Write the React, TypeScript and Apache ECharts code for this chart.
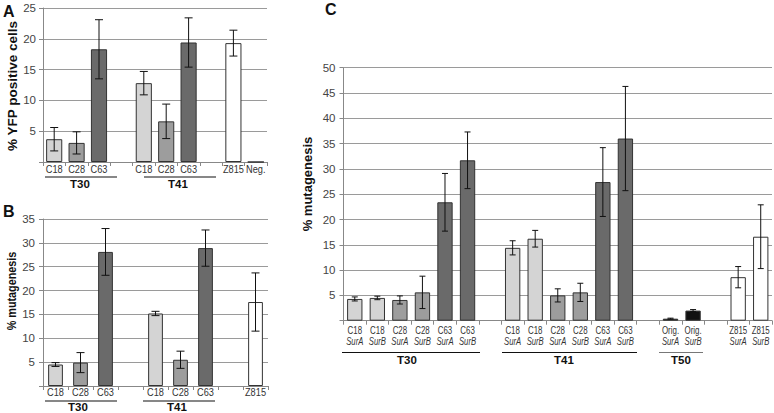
import React, { useEffect, useRef } from "react";
import * as echarts from "echarts";

// ---------- Panel A: % YFP positive cells ----------
const aCategories = ["C18", "C28", "C63", "", "C18", "C28", "C63", "", "Z815", "Neg."];
const aValues: (number | null)[] = [3.7, 3.1, 18.3, null, 12.8, 6.6, 19.4, null, 19.3, 0];
const aErrors: (number | null)[] = [1.9, 1.8, 4.8, null, 1.9, 2.8, 4.0, null, 2.1, null];
const aGroups = ["T30", "T41"];
const aTitle = "% YFP positive cells";

// ---------- Panel B: % mutagenesis ----------
const bCategories = ["C18", "C28", "C63", "", "C18", "C28", "C63", "", "Z815"];
const bValues: (number | null)[] = [4.5, 4.9, 28.1, null, 15.2, 5.5, 28.9, null, 17.6];
const bErrors: (number | null)[] = [0.4, 2.1, 4.9, null, 0.45, 1.8, 3.8, null, 6.1];
const bGroups = ["T30", "T41"];
const bTitle = "% mutagenesis";

// ---------- Panel C: % mutagenesis by gene ----------
const cStrains = ["C18", "C18", "C28", "C28", "C63", "C63", "", "C18", "C18", "C28", "C28", "C63", "C63", "", "Orig.", "Orig.", "", "Z815", "Z815"];
const cGenes = ["SurA", "SurB", "SurA", "SurB", "SurA", "SurB", "", "SurA", "SurB", "SurA", "SurB", "SurA", "SurB", "", "SurA", "SurB", "", "SurA", "SurB"];
const cValues: (number | null)[] = [4.3, 4.5, 4.1, 5.6, 23.4, 31.7, null, 14.4, 16.2, 5.0, 5.6, 27.4, 36.0, null, 0.4, 2.0, null, 8.6, 16.6];
const cErrors: (number | null)[] = [0.4, 0.35, 0.8, 3.2, 5.7, 5.6, null, 1.4, 1.65, 1.3, 1.8, 6.8, 10.3, null, 0.1, 0.2, null, 2.1, 6.3];
const cGroups = ["T30", "T41", "T50"];
const cTitle = "% mutagenesis";

const panelLetters = ["A", "B", "C"];

// ---------- styles / layout ----------
const FONT = "Liberation Sans, Arial, sans-serif";
const strainColor: Record<string, string> = {
  C18: "#d4d4d4",
  C28: "#9d9d9d",
  C63: "#6a6a6a",
  Z815: "#ffffff",
  "Orig.": "#111111",
  "Neg.": "#ffffff",
};

const grids = [
  { left: 43, top: 8, width: 224, height: 154 },
  { left: 43, top: 219, width: 225, height: 167 },
  { left: 343.5, top: 67.7, width: 428.5, height: 253 },
];

const groupLayout = [
  [
    { x1: 45, x2: 117, y: 177, lx: 80, ly: 184, color: "#111" },
    { x1: 144, x2: 216, y: 177, lx: 178, ly: 184, color: "#111" },
  ],
  [
    { x1: 45, x2: 117, y: 401, lx: 78, ly: 406.5, color: "#111" },
    { x1: 143, x2: 215, y: 401, lx: 177, ly: 406.5, color: "#111" },
  ],
  [
    { x1: 342, x2: 480, y: 352.5, lx: 407, ly: 359.5, color: "#111" },
    { x1: 502, x2: 637, y: 352.5, lx: 564, ly: 359.5, color: "#111" },
    { x1: 659, x2: 703, y: 352.5, lx: 681, ly: 359.5, color: "#777" },
  ],
];

const makeErr = (half: number) => (_params: any, api: any) => {
  const x = api.value(0);
  const v = api.value(1);
  const e = api.value(2);
  const hi = api.coord([x, v + e]);
  const lo = api.coord([x, v - e]);
  const style = { stroke: "#111", lineWidth: 1 };
  return {
    type: "group",
    children: [
      { type: "line", shape: { x1: hi[0], y1: hi[1], x2: lo[0], y2: lo[1] }, style },
      { type: "line", shape: { x1: hi[0] - half, y1: hi[1], x2: hi[0] + half, y2: hi[1] }, style },
      { type: "line", shape: { x1: lo[0] - half, y1: lo[1], x2: lo[0] + half, y2: lo[1] }, style },
    ],
  };
};

const barData = (cats: string[], vals: (number | null)[]) =>
  vals.map((v, i) =>
    v == null ? "-" : { value: v, itemStyle: { color: strainColor[cats[i]] || "#fff" } }
  );

const errData = (vals: (number | null)[], errs: (number | null)[]) =>
  vals
    .map((v, i) => (v == null || errs[i] == null ? null : [i, v, errs[i] as number]))
    .filter((d) => d !== null);

const yAxisCfg = (gridIndex: number, max: number, margin: number) => ({
  type: "value",
  gridIndex,
  min: 0,
  max,
  interval: 5,
  axisLine: { show: true, lineStyle: { color: "#888", width: 1 } },
  axisTick: { show: true, length: 4, lineStyle: { color: "#888" } },
  splitLine: { show: true, lineStyle: { color: "#9a9a9a", width: 1 } },
  axisLabel: {
    fontSize: 11.5,
    color: "#444",
    fontFamily: FONT,
    margin,
    formatter: (v: number) => (v === 0 ? "" : String(v)),
  },
});

const xAxisCfg = (gridIndex: number, data: string[]) => ({
  type: "category",
  gridIndex,
  data,
  boundaryGap: true,
  axisLine: { show: true, lineStyle: { color: "#888", width: 1 } },
  axisTick: { show: true, length: 4, interval: 0, lineStyle: { color: "#888" } },
  splitLine: { show: false },
  axisLabel: { show: false },
});

export default function App() {
  const ref = useRef<HTMLDivElement>(null);

  useEffect(() => {
    if (!ref.current) return;
    const chart = echarts.init(ref.current, undefined, { renderer: "svg" });

    chart.setOption({
      animation: false,
      backgroundColor: "#ffffff",
      grid: grids.map((g) => ({ ...g, containLabel: false })),
      xAxis: [xAxisCfg(0, aCategories), xAxisCfg(1, bCategories), xAxisCfg(2, cStrains)],
      yAxis: [yAxisCfg(0, 25, 7), yAxisCfg(1, 35, 8), yAxisCfg(2, 50, 8)],
      series: [
        {
          type: "bar",
          xAxisIndex: 0,
          yAxisIndex: 0,
          data: barData(aCategories, aValues),
          barCategoryGap: "28%",
          itemStyle: { borderColor: "#333", borderWidth: 1 },
        },
        {
          type: "custom",
          xAxisIndex: 0,
          yAxisIndex: 0,
          data: errData(aValues, aErrors),
          renderItem: makeErr(4),
          encode: { x: 0, y: 1 },
          z: 10,
        },
        {
          type: "bar",
          xAxisIndex: 1,
          yAxisIndex: 1,
          data: barData(bCategories, bValues),
          barCategoryGap: "41%",
          itemStyle: { borderColor: "#333", borderWidth: 1 },
        },
        {
          type: "custom",
          xAxisIndex: 1,
          yAxisIndex: 1,
          data: errData(bValues, bErrors),
          renderItem: makeErr(4),
          encode: { x: 0, y: 1 },
          z: 10,
        },
        {
          type: "bar",
          xAxisIndex: 2,
          yAxisIndex: 2,
          data: barData(cStrains, cValues),
          barCategoryGap: "32%",
          itemStyle: { borderColor: "#333", borderWidth: 1 },
        },
        {
          type: "custom",
          xAxisIndex: 2,
          yAxisIndex: 2,
          data: errData(cValues, cErrors),
          renderItem: makeErr(3),
          encode: { x: 0, y: 1 },
          z: 10,
        },
      ],
    });

    const groupNames = [aGroups, bGroups, cGroups];
    const graphics: any[] = [];

    // x category labels, placed at the axis' own category positions
    const catLabel = (axis: number, idx: number, text: string, y: number, size: number, sx: number, italic = false) => {
      const x = chart.convertToPixel({ xAxisIndex: axis } as any, idx) as unknown as number;
      graphics.push({
        type: "text",
        x,
        y,
        scaleX: sx,
        style: {
          text,
          font: `${italic ? "italic " : ""}${size}px ${FONT}`,
          fill: "#333",
          textAlign: "center",
          textVerticalAlign: "middle",
        },
      });
    };
    aCategories.forEach((c, i) => c && catLabel(0, i, c, 169.5, 11, 0.84));
    bCategories.forEach((c, i) => c && catLabel(1, i, c, 392.5, 11, 0.84));
    cStrains.forEach((c, i) => {
      if (!c) return;
      catLabel(2, i, c, 329.5, 11, 0.72);
      catLabel(2, i, cGenes[i], 341, 11, 0.7, true);
    });

    // panel letters
    const letterPos = [
      { x: 3, y: 11 },
      { x: 3, y: 211 },
      { x: 325, y: 9.5 },
    ];
    panelLetters.forEach((L, i) => {
      graphics.push({
        type: "text",
        x: letterPos[i].x,
        y: letterPos[i].y,
        style: {
          text: L,
          font: `bold 16px ${FONT}`,
          fill: "#111",
          textAlign: "left",
          textVerticalAlign: "middle",
        },
      });
    });

    // y axis titles
    const titles = [
      { t: aTitle, x: 12, y: 86, size: 13.5, sx: 1 },
      { t: bTitle, x: 12, y: 291, size: 13.5, sx: 0.8 },
      { t: cTitle, x: 307, y: 184, size: 13, sx: 1 },
    ];
    titles.forEach((t) => {
      graphics.push({
        type: "text",
        x: t.x,
        y: t.y,
        rotation: Math.PI / 2,
        scaleX: t.sx,
        style: {
          text: t.t,
          font: `bold ${t.size}px ${FONT}`,
          fill: "#111",
          textAlign: "center",
          textVerticalAlign: "middle",
        },
      });
    });

    // group annotations
    groupLayout.forEach((gl, p) => {
      gl.forEach((g, k) => {
        graphics.push({
          type: "line",
          shape: { x1: g.x1, y1: g.y, x2: g.x2, y2: g.y },
          style: { stroke: g.color, lineWidth: 1.2 },
        });
        graphics.push({
          type: "text",
          x: g.lx,
          y: g.ly,
          style: {
            text: groupNames[p][k],
            font: `bold 11.5px ${FONT}`,
            fill: "#111",
            textAlign: "center",
            textVerticalAlign: "middle",
          },
        });
      });
    });

    chart.setOption({ graphic: graphics });

    return () => {
      chart.dispose();
    };
  }, []);

  return (
    <div
      ref={ref}
      style={{ position: "fixed", left: 0, top: 0, width: 774, height: 413, background: "#fff" }}
    />
  );
}
